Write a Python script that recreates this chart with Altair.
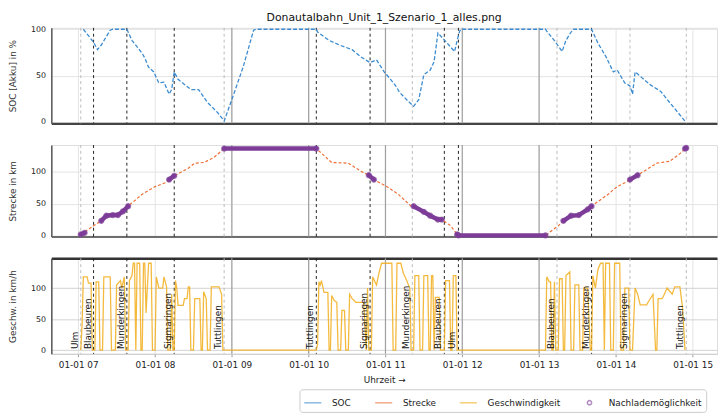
import altair as alt
import pandas as pd

DATUM = "2024-01-01"
titel = "Donautalbahn_Unit_1_Szenario_1_alles.png"

reihen = ["SOC", "Strecke", "Geschwindigkeit", "Nachlademöglichkeit"]
farben = ["#3b8bd0", "#ef6f35", "#f2ae1c", "#7d3c98"]
PUNKT = "M-0.25,0A0.25,0.25,0,1,0,0.25,0A0.25,0.25,0,1,0,-0.25,0Z"
symbole = ["stroke", "stroke", "stroke", PUNKT]

stunden = [7, 8, 9, 10, 11, 12, 13, 14, 15]
umlauf_grenzen = ["09:00", "10:00", "11:00", "12:00", "13:00"]

# SOC in %
soc_zeit = ["07:04", "07:12", "07:15", "07:18", "07:25", "07:27", "07:38", "07:42", "07:50", "07:52",
            "07:55", "07:59", "08:03", "08:07", "08:11", "08:13", "08:15", "08:18", "08:28", "08:34",
            "08:41", "08:49", "08:54", "09:01", "09:09", "09:17", "09:19", "10:06", "10:07", "10:16",
            "10:24", "10:34", "10:41", "10:48", "10:53", "10:59", "11:04", "11:08", "11:11", "11:18",
            "11:22", "11:26", "11:30", "11:35", "11:38", "11:41", "11:45", "11:54", "11:56", "11:58",
            "11:59", "13:05", "13:06", "13:13", "13:18", "13:21", "13:25", "13:27", "13:41", "13:46",
            "13:52", "13:58", "14:01", "14:07", "14:11", "14:13", "14:15", "14:27", "14:35", "14:42",
            "14:54"]
soc_wert = [100, 86, 78, 83, 99, 100, 100, 88, 74, 69,
            59, 54, 42, 43, 30, 35, 54, 46, 35, 35,
            21, 10, 1, 28, 60, 99, 100, 100, 97, 88,
            83, 78, 70, 64, 67, 54, 46, 39, 32, 22,
            17, 24, 51, 56, 65, 96, 90, 76, 88, 98,
            100, 100, 98, 86, 76, 88, 97, 100, 100, 85,
            71, 54, 56, 42, 39, 30, 54, 40, 33, 21,
            1]

# Strecke in km
strecke_zeit = ["07:02", "07:12", "07:18", "07:22", "07:27", "07:31", "07:35", "07:39", "07:50", "08:00",
                "08:08", "08:11", "08:15", "08:26", "08:31", "08:38", "08:46", "08:54", "10:06", "10:18",
                "10:31", "10:41", "10:47", "10:51", "11:01", "11:10", "11:20", "11:22", "11:30", "11:35",
                "11:41", "11:44", "11:51", "11:56", "11:57", "13:05", "13:15", "13:19", "13:25", "13:31",
                "13:38", "13:41", "13:54", "14:01", "14:07", "14:11", "14:17", "14:32", "14:42", "14:50",
                "14:55"]
strecke_km = [1.5, 15, 23, 31, 32, 32, 38, 46, 65, 77,
              83, 88, 94, 106, 114, 115, 123, 137, 137, 115,
              114, 101, 95, 88, 77, 65, 46, 46, 37, 31,
              25, 25, 15, 1.5, 0, 0, 15, 23, 31, 32,
              41, 46, 65, 77, 83, 88, 95, 114, 117, 129,
              138]

# Nachlademöglichkeit (Abschnitte auf der Strecke)
laden_abschnitt = [1, 1, 2, 2, 2, 2, 2, 2, 3, 3, 4, 4, 5, 5, 6, 6, 6, 6, 6,
                   7, 7, 7, 8, 8, 8, 8, 8, 9, 9, 10, 10]
laden_zeit = ["07:02", "07:05", "07:18", "07:22", "07:27", "07:31", "07:35", "07:39", "08:11", "08:15",
              "08:54", "10:06", "10:47", "10:51", "11:22", "11:30", "11:35", "11:41", "11:44",
              "11:56", "11:57", "13:05", "13:19", "13:25", "13:31", "13:38", "13:41", "14:11", "14:17",
              "14:54", "14:55"]
laden_km = [1.5, 4, 23, 31, 32, 32, 38, 46, 88, 94,
            137, 137, 95, 88, 46, 37, 31, 25, 25,
            1.5, 0, 0, 23, 31, 32, 41, 46, 88, 95,
            137, 138]

# Geschwindigkeit in km/h
v_zeit = ["07:02", "07:03", "07:04", "07:07", "07:08", "07:10", "07:11", "07:13", "07:14", "07:16",
          "07:17", "07:19", "07:20", "07:25", "07:26", "07:29", "07:30", "07:33", "07:34", "07:36",
          "07:37", "07:39", "07:40", "07:42", "07:43", "07:44", "07:45", "07:46", "07:48", "07:49",
          "07:50", "07:51", "07:52", "07:53", "07:55", "07:57", "07:58", "08:00", "08:01", "08:03",
          "08:06", "08:07", "08:09", "08:10", "08:12", "08:13", "08:14", "08:15", "08:16", "08:17",
          "08:18", "08:22", "08:23", "08:25", "08:26", "08:27", "08:28", "08:30", "08:31", "08:35",
          "08:36", "08:37", "08:38", "08:40", "08:41", "08:43", "08:44", "08:48", "08:50", "08:52",
          "08:53", "08:54",
          "10:06", "10:07", "10:08", "10:09", "10:10", "10:12", "10:15", "10:16", "10:17", "10:18",
          "10:20", "10:22", "10:23", "10:25", "10:26", "10:28", "10:29", "10:31", "10:32", "10:34",
          "10:37", "10:43", "10:45", "10:46", "10:47", "10:49", "10:50", "10:53", "10:55", "10:57",
          "10:59", "11:01", "11:03", "11:05", "11:06", "11:08", "11:09", "11:12", "11:14", "11:16",
          "11:19", "11:20", "11:22", "11:23", "11:26", "11:27", "11:29", "11:30", "11:33", "11:34",
          "11:35", "11:36", "11:37", "11:38", "11:39", "11:42", "11:43", "11:46", "11:47", "11:50",
          "11:51", "11:52", "11:53", "11:55", "11:56", "11:57",
          "13:05", "13:06", "13:08", "13:09", "13:10", "13:11", "13:12", "13:13", "13:15", "13:16",
          "13:18", "13:19", "13:20", "13:21", "13:24", "13:25", "13:27", "13:28", "13:31", "13:32",
          "13:34", "13:35", "13:38", "13:40", "13:41", "13:42", "13:44", "13:46", "13:48", "13:50",
          "13:51", "13:52", "13:55", "13:56", "13:58", "13:59", "14:03", "14:04", "14:06", "14:07",
          "14:10", "14:11", "14:13", "14:15", "14:17", "14:19", "14:24", "14:26", "14:29", "14:31",
          "14:32", "14:33", "14:36", "14:37", "14:40", "14:44", "14:46", "14:50", "14:52", "14:54"]
v_kmh = [0, 40, 118, 118, 108, 108, 0, 0, 110, 110,
         0, 0, 118, 118, 0, 0, 105, 112, 100, 118,
         0, 0, 112, 120, 140, 140, 0, 140, 140, 0,
         0, 140, 140, 60, 140, 140, 0, 0, 118, 100,
         100, 118, 102, 0, 0, 90, 0, 0, 112, 100,
         72, 72, 83, 83, 102, 102, 0, 0, 83, 83,
         0, 0, 94, 83, 0, 0, 102, 102, 102, 90,
         0, 0,
         0, 10, 110, 105, 112, 93, 93, 0, 0, 88,
         80, 77, 0, 0, 64, 64, 0, 0, 90, 83,
         77, 77, 0, 100, 0, 0, 118, 105, 125, 140,
         140, 140, 140, 140, 0, 0, 140, 140, 124, 115,
         100, 0, 0, 120, 120, 0, 0, 120, 120, 0,
         0, 120, 120, 0, 85, 85, 0, 0, 112, 112,
         0, 0, 120, 120, 0, 0,
         0, 118, 110, 110, 0, 0, 110, 0, 0, 115,
         115, 0, 0, 120, 126, 0, 0, 105, 105, 0,
         0, 100, 100, 0, 0, 120, 100, 130, 140, 140,
         0, 140, 140, 0, 0, 140, 140, 0, 0, 100,
         100, 0, 0, 100, 90, 73, 73, 80, 90, 0,
         0, 83, 83, 86, 100, 90, 102, 102, 70, 0]

# Halte
halt_zeit = ["07:02", "07:12", "07:38", "08:15", "08:54", "10:06", "10:48", "11:21", "11:46", "11:57",
             "13:14", "13:41", "14:11", "14:55"]
halt_name = ["Ulm", "Blaubeuren", "Munderkingen", "Sigmaringen", "Tuttlingen",
             "Tuttlingen", "Sigmaringen", "Munderkingen", "Blaubeuren", "Ulm",
             "Blaubeuren", "Munderkingen", "Sigmaringen", "Tuttlingen"]
halt_gruppe = [2, 1, 1, 1, 2, 1, 1, 2, 1, 1, 2, 1, 2, 2]


def ts(t):
    return f"{DATUM}T{t}:00"


df_soc = pd.DataFrame({"zeit": [ts(t) for t in soc_zeit], "wert": soc_wert, "reihe": "SOC"})
df_str = pd.DataFrame({"zeit": [ts(t) for t in strecke_zeit], "wert": strecke_km, "reihe": "Strecke"})
df_lad = pd.DataFrame({"zeit": [ts(t) for t in laden_zeit], "wert": laden_km,
                       "abschnitt": laden_abschnitt, "reihe": "Nachlademöglichkeit"})
df_v = pd.DataFrame({"zeit": [ts(t) for t in v_zeit], "wert": v_kmh, "reihe": "Geschwindigkeit"})
df_halt = pd.DataFrame({"zeit": [ts(t) for t in halt_zeit], "name": halt_name, "gruppe": halt_gruppe})
df_uml = pd.DataFrame({"zeit": [ts(t) for t in umlauf_grenzen]})


def dt(h, m=0):
    return alt.DateTime(year=2024, month=1, date=1, hours=h, minutes=m)


x_scale = alt.Scale(domain=[dt(6, 39), dt(15, 19)])
stunden_werte = [dt(h) for h in stunden]

GRID = "#e4e4e4"


def ax_oben(width):
    return alt.Axis(values=stunden_werte, labels=False, ticks=False, title=None, grid=True,
                    gridColor=GRID, domainColor="#444444", domainWidth=width, minExtent=0, maxExtent=0)


ax_unten = alt.Axis(values=stunden_werte, format="%m-%d %H", title="Uhrzeit →", labelFontSize=9,
                    tickSize=3, labelPadding=4, titlePadding=6, titleFontSize=9, titleFontWeight="normal",
                    domainColor="#cccccc", grid=True, gridColor=GRID, tickColor="#999999",
                    labelColor="#222222", titleColor="#222222")
ax_rand = alt.Axis(orient="top", labels=False, ticks=False, grid=False, title=None,
                   domainColor="#333333", domainWidth=2.5, minExtent=0, maxExtent=0)


def y_axis(grid=GRID):
    return alt.Axis(values=[0, 50, 100], grid=True, gridColor=grid, ticks=False, labelPadding=6,
                    labelFontSize=8, titleFontSize=9, titlePadding=7, minExtent=27, maxExtent=27,
                    domainColor="#555555", domainWidth=1.5, titleFontWeight="normal",
                    titleColor="#333333", labelColor="#222222")


leg = alt.Legend(
    title=None, orient="none", legendX=252, legendY=367, direction="horizontal",
    labelFontSize=9, labelOffset=10, columnPadding=20, padding=4, symbolOpacity=0.6,
    symbolSize=300, symbolStrokeWidth=1.5, strokeColor="#cccccc", fillColor="white",
    cornerRadius=3, labelColor="#222222",
)
farbe = alt.Color("reihe:N", scale=alt.Scale(domain=reihen, range=farben), legend=leg)
form = alt.Shape("reihe:N", scale=alt.Scale(domain=reihen, range=symbole), legend=leg)


def X(axis):
    return alt.X("zeit:T", scale=x_scale, axis=axis, title=None)


def regeln(axis):
    uml = alt.Chart(df_uml).mark_rule(color="#a0a0a0", strokeWidth=1.2).encode(x=X(axis))
    hell = alt.Chart(df_halt).transform_filter("datum.gruppe == 2").mark_rule(
        color="#bbbbbb", strokeDash=[3, 3], strokeWidth=1).encode(x=X(axis))
    dunkel = alt.Chart(df_halt).transform_filter("datum.gruppe == 1").mark_rule(
        color="#222222", strokeDash=[3, 3], strokeWidth=1).encode(x=X(axis))
    return [uml, hell, dunkel]


# Panel 1: SOC
a1 = ax_oben(2.2)
y1 = alt.Y("wert:Q", scale=alt.Scale(domain=[-1.5, 101.5], nice=False, zero=False),
           axis=y_axis(), title="SOC [Akku] in %")
soc = alt.Chart(df_soc).mark_line(strokeWidth=1.3, strokeDash=[4, 2]).encode(x=X(a1), y=y1, color=farbe)
p1 = alt.layer(*regeln(a1), soc).properties(
    width=676, height=97,
    title=alt.Title(titel, fontSize=11, font="DejaVu Sans", fontWeight="normal", anchor="middle",
                    frame="group", offset=2, color="#111111"))

# Panel 2: Strecke
a2 = ax_oben(1.5)
y2 = alt.Y("wert:Q", scale=alt.Scale(domain=[-2, 142.6], nice=False, zero=False),
           axis=y_axis(), title="Strecke in km")
strecke = alt.Chart(df_str).mark_line(strokeWidth=1.2, strokeDash=[3, 2]).encode(x=X(a2), y=y2, color=farbe)
laden = alt.Chart(df_lad).mark_line(strokeWidth=4.5, strokeCap="round").encode(
    x=X(a2), y=y2, color=farbe, detail="abschnitt:N")
laden_pkt = alt.Chart(df_lad).mark_point(filled=False, strokeWidth=2, size=300).encode(
    x=X(a2), y=y2, color=farbe, shape=form)
p2 = alt.layer(*regeln(a2), strecke, laden, laden_pkt).properties(width=676, height=93)

# Panel 3: Geschwindigkeit
y3 = alt.Y("wert:Q", scale=alt.Scale(domain=[-6, 148], nice=False, zero=False),
           axis=y_axis(grid="#d2d2d2"), title="Geschw. in km/h")
v = alt.Chart(df_v).mark_line(strokeWidth=1.3, opacity=0.85).encode(x=X(ax_unten), y=y3, color=farbe)
namen = alt.Chart(df_halt).mark_text(angle=270, align="left", baseline="bottom", fontSize=9,
                                     color="#111111", dx=1, dy=-1).encode(
    x=X(ax_rand), y=alt.datum(0), text="name:N")
p3 = alt.layer(*regeln(None), v, namen).resolve_axis(x="independent").properties(width=676, height=97)

chart = alt.vconcat(p1, p2, p3, spacing=22, bounds="flush").configure(
    padding={"left": 0, "top": 0, "right": 0, "bottom": 0}, font="DejaVu Sans"
).configure_view(stroke="#dddddd", strokeWidth=1)

chart.save("out.html", embed_options={"renderer": "svg", "actions": False})
